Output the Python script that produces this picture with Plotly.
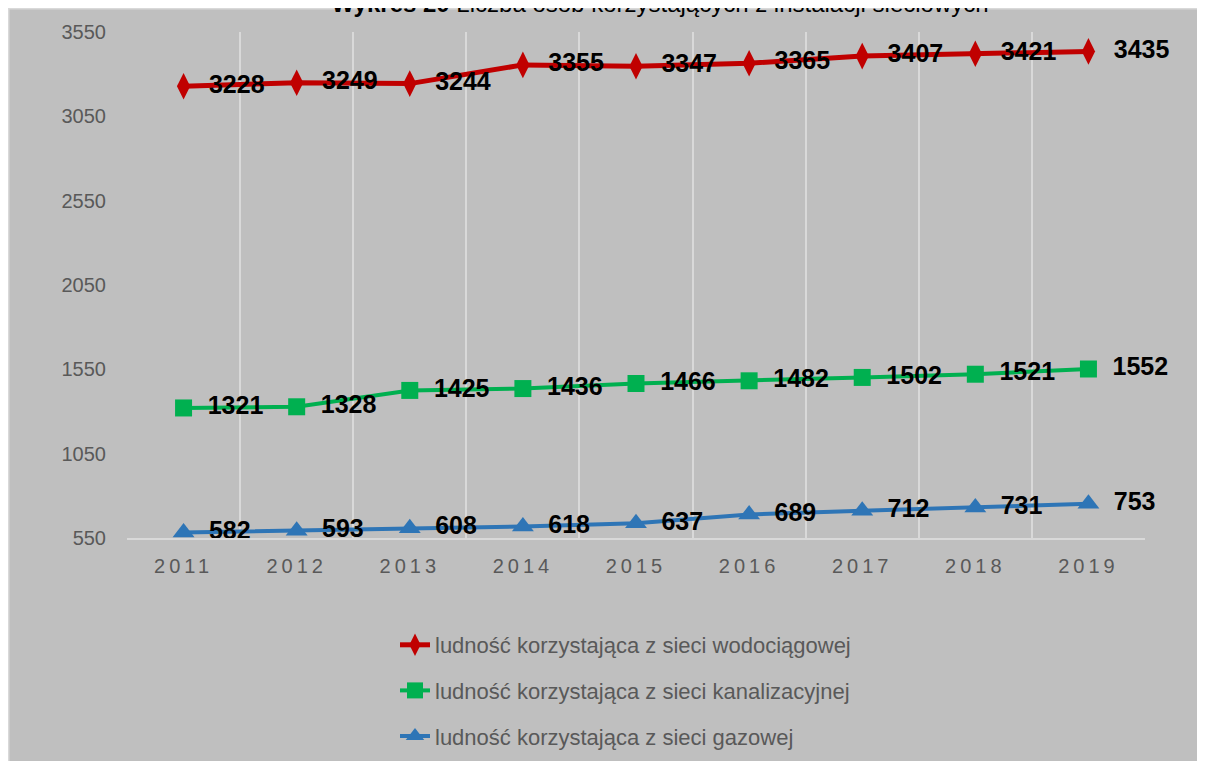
import plotly.graph_objects as go

years = ["2011", "2012", "2013", "2014", "2015", "2016", "2017", "2018", "2019"]
wod = [3228, 3249, 3244, 3355, 3347, 3365, 3407, 3421, 3435]
kan = [1321, 1328, 1425, 1436, 1466, 1482, 1502, 1521, 1552]
gaz = [582, 593, 608, 618, 637, 689, 712, 731, 753]
names = [
    "ludność korzystająca z sieci wodociągowej",
    "ludność korzystająca z sieci kanalizacyjnej",
    "ludność korzystająca z sieci gazowej",
]
y_ticks = [550, 1050, 1550, 2050, 2550, 3050, 3550]
title_bold = "Wykres 20"
title_rest = "Liczba osób korzystających z instalacji sieciowych"

FONT = "Liberation Sans, Arial, sans-serif"
series = [
    (wod, names[0], "#c00000", "diamond-tall", 19, 5),
    (kan, names[1], "#00b050", "square", 17, 4),
    (gaz, names[2], "#2e75b6", "triangle-up", 19, 4),
]

fig = go.Figure()
for i, (vals, nm, col, sym, msz, lw) in enumerate(series):
    fig.add_trace(go.Scatter(
        x=years, y=vals, name=nm, mode="lines+markers+text",
        line=dict(color=col, width=lw),
        marker=dict(symbol=sym, size=msz, color=col),
        text=[str(v) for v in vals], texttemplate="\u2002%{text}",
        textposition="middle right", cliponaxis=False,
        textfont=dict(family=FONT, size=25, color="#000000", weight="bold"),
        legendgroup=f"g{i}",
    ))

# figure is rendered with an 8px page offset
W, H = 1189, 753
L, R, T, B = 119, 52, 24, 223
pw, ph = W - L - R, H - T - B

def px_x(p):
    return (p - L) / pw

def px_y(p):
    return (H - B - p) / ph

fig.add_shape(type="rect", xref="paper", yref="paper",
              x0=px_x(0.5), x1=px_x(W + 30), y0=px_y(H + 30), y1=px_y(0.5),
              fillcolor="#bfbfbf", line=dict(color="#d9d9d9", width=2), layer="below")

fig.update_layout(
    width=W, height=H,
    margin=dict(l=L, r=R, t=T, b=B, autoexpand=False),
    paper_bgcolor="#bfbfbf", plot_bgcolor="rgba(0,0,0,0)",
    title=dict(text=f"<b>{title_bold}</b> {title_rest}", x=652 / W, xanchor="center",
               y=1.0 - 4 / H, yref="container", yanchor="bottom", pad=dict(b=0, t=0),
               font=dict(family=FONT, size=24, color="#000000")),
    showlegend=True,
    legend=dict(x=px_x(387), xanchor="left", y=px_y(616), yanchor="top",
                orientation="v", traceorder="grouped", tracegroupgap=14,
                font=dict(family=FONT, size=22, color="#595959"),
                bgcolor="rgba(0,0,0,0)"),
    font=dict(family=FONT),
)
fig.update_xaxes(
    type="category", tickson="boundaries", showgrid=True, gridcolor="#d9d9d9", gridwidth=1.5,
    tickvals=years, ticktext=[f'<span style="letter-spacing:4px">{y}</span>' for y in years],
    showline=True, linecolor="#d9d9d9", linewidth=1.5,
    ticks="", ticklabelstandoff=9, zeroline=False,
    tickfont=dict(family=FONT, size=20, color="#595959"),
    range=[-0.5, 8.5],
)
fig.update_yaxes(
    range=[550, 3550], tickvals=y_ticks, showgrid=False, zeroline=False, showline=False,
    ticks="", ticklabelstandoff=20,
    tickfont=dict(family=FONT, size=20, color="#595959"),
)
fig.write_html("out.html")
